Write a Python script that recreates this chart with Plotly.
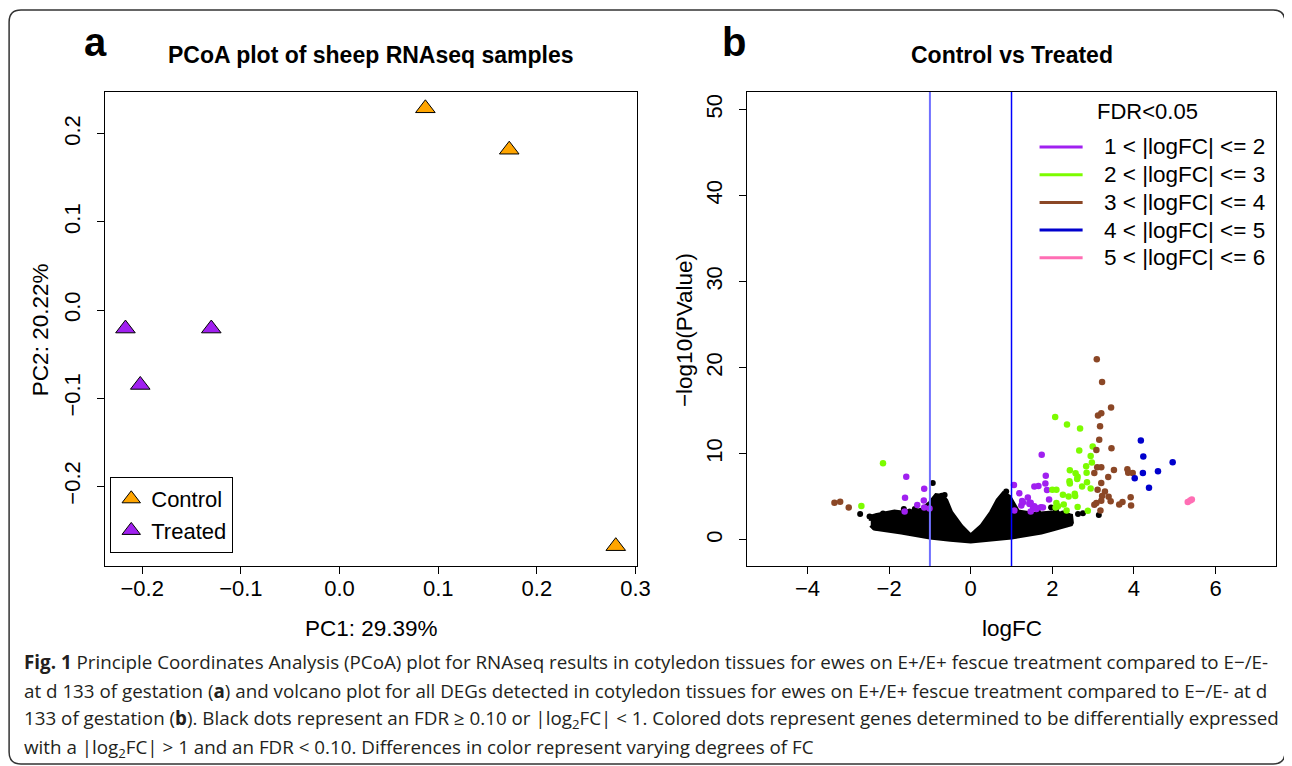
import plotly.graph_objects as go

# Figure sized to the visible window (8 px body margin); SX maps reference px to layout px
W, H = 1292, 758
OFF = 8
SX = 1292 / 1308
FONT = "Liberation Sans, Arial, Helvetica, sans-serif"
CAP_FONT = "Open Sans, sans-serif"

# ---------------- Panel a: PCoA ----------------
group_names = ["Control", "Treated"]
group_colors = ["#FFA500", "#A020F0"]
ctrl_pc1 = [0.087, 0.172, 0.280]
ctrl_pc2 = [0.229, 0.182, -0.268]
trt_pc1 = [-0.217, -0.202, -0.130]
trt_pc2 = [-0.021, -0.085, -0.021]
pc1_ticks = [-0.2, -0.1, 0.0, 0.1, 0.2, 0.3]
pc2_ticks = [-0.2, -0.1, 0.0, 0.1, 0.2]
pc1_range = [-0.2375, 0.3015]
pc2_range = [-0.2905, 0.2475]

# ---------------- Panel b: volcano ----------------
logfc_ticks = [-4, -2, 0, 2, 4, 6]
pval_ticks = [0, 10, 20, 30, 40, 50]
logfc_range = [-5.48, 7.48]
pval_range = [-3.04, 52.04]
fc_cutoffs = [-1, 1]

legend_title = "FDR<0.05"
legend_labels = ["1 < |logFC| <= 2", "2 < |logFC| <= 3", "3 < |logFC| <= 4",
                 "4 < |logFC| <= 5", "5 < |logFC| <= 6"]
legend_colors = ["#A020F0", "#7CFC00", "#8B4726", "#0000CD", "#FF6EB4"]

# dense non-significant cloud (outline)
cloud_x = [-2.45, -2.44, -2.30, -2.11, -1.87, -1.54, -1.21, -1.00, -0.85, -0.70,
           -0.60, -0.48, -0.23, 0.00, 0.26, 0.50, 0.66, 0.80, 0.95, 1.16,
           1.57, 2.06, 2.46, 2.48, 2.46, 2.00, 1.73, 1.00, 0.50, 0.00,
           -0.50, -1.00, -1.70, -2.10, -2.36, -2.45]
cloud_y = [2.2, 2.7, 2.9, 3.1, 3.3, 3.1, 3.5, 4.3, 5.2, 5.1,
           4.6, 3.2, 1.6, 0.5, 1.6, 3.2, 4.6, 5.4, 5.0, 3.3,
           3.0, 3.2, 2.8, 2.0, 1.8, 1.2, 0.86, 0.27, 0.0, -0.2,
           0.0, 0.27, 0.86, 1.1, 1.3, 1.7]
# scattered non-significant genes at the cloud edge
ns_x = [-2.71, -2.48, -2.30, -2.15, -2.01, -2.11, -2.19, -2.31, -1.83, -1.64,
        -1.50, -1.37, -0.93, -0.81, -0.71, -0.64, -0.87, -2.36, -2.23, -2.03,
        0.87, 0.85, 0.71, 0.81, 0.75, 0.59, 1.97, 2.09, 2.26, 2.38,
        2.42, 2.63, 2.75, 3.14, 1.08, 1.40, 1.65, 1.89]
ns_y = [3.0, 2.72, 2.72, 3.07, 2.6, 1.83, 1.59, 1.44, 2.8, 3.57,
        3.3, 3.57, 6.6, 4.93, 5.13, 5.2, 4.5, 1.5, 1.8, 1.9,
        5.63, 5.13, 4.55, 4.63, 3.85, 3.38, 3.77, 3.38, 3.07, 2.8,
        2.02, 3.0, 3.1, 2.9, 2.8, 3.0, 3.2, 3.0]

fc12_x = [-1.58, -1.14, -1.61, -1.15, -1.31, -1.14, -1.62, -1.01,
          1.74, 1.84, 1.83, 1.87, 1.56, 1.66, 1.06, 1.19, 1.40, 1.26, 1.24, 1.44,
          1.47, 1.92, 1.56, 1.62, 1.53, 1.72, 1.47, 1.07, 1.28, 1.61, 1.77, 1.44]
fc12_y = [7.34, 5.94, 4.90, 4.58, 4.06, 3.77, 3.30, 3.65,
          9.90, 7.46, 6.56, 5.79, 6.21, 6.25, 6.36, 5.40, 4.93, 4.51, 4.00, 4.30,
          4.30, 4.70, 3.90, 3.66, 3.66, 3.80, 3.30, 3.42, 4.35, 3.57, 3.77, 4.16]
fc23_x = [-2.15, -2.68,
          2.07, 2.36, 2.68, 2.66, 2.99, 2.94, 2.97, 2.83, 2.43, 2.57, 2.62, 2.61,
          2.84, 2.42, 2.43, 2.85, 2.73, 2.94, 2.00, 2.10, 2.26, 2.40, 2.55, 2.56,
          2.10, 2.28, 2.08, 2.14, 2.62, 2.35, 2.87]
fc23_y = [8.90, 3.92,
          14.26, 13.40, 12.94, 10.37, 10.84, 9.75, 9.00, 8.55, 8.08, 7.73, 7.34, 7.07,
          7.81, 6.80, 6.56, 6.68, 6.21, 5.98, 5.83, 5.83, 5.24, 5.05, 5.36, 5.10,
          4.27, 4.12, 3.77, 3.89, 3.81, 3.42, 3.38]
fc34_x = [-3.34, -3.20, -2.99,
          3.09, 3.22, 3.44, 3.12, 3.20, 3.17, 3.15, 3.45, 3.08, 3.10, 3.20, 3.51,
          3.03, 3.37, 3.84, 3.86, 3.97, 3.20, 3.11, 3.29, 3.22, 3.38, 3.43, 3.20,
          3.92, 3.72, 3.64, 3.93, 3.03, 3.08, 3.18]
fc34_y = [4.31, 4.43, 3.77,
          20.98, 18.33, 15.38, 14.45, 14.72, 13.20, 11.62, 10.64, 10.45, 8.43, 8.43, 8.12,
          7.77, 7.31, 8.20, 7.81, 7.77, 6.60, 5.83, 5.63, 5.09, 5.01, 4.47, 4.55,
          4.94, 4.40, 4.12, 4.00, 4.08, 4.27, 3.42]
fc45_x = [4.17, 4.23, 4.95, 4.59, 4.22, 4.02, 4.37]
fc45_y = [11.54, 9.67, 9.01, 7.96, 7.77, 7.15, 6.06]
fc56_x = [5.32, 5.38, 5.42]
fc56_y = [4.39, 4.58, 4.70]

caption_lines = [
    "<b>Fig. 1</b> Principle Coordinates Analysis (PCoA) plot for RNAseq results in cotyledon tissues for ewes on E+/E+ fescue treatment compared to E\u2212/E-",
    "at d 133 of gestation (<b>a</b>) and volcano plot for all DEGs detected in cotyledon tissues for ewes on E+/E+ fescue treatment compared to E\u2212/E- at d",
    "133 of gestation (<b>b</b>). Black dots represent an FDR \u2265 0.10 or |log<sub>2</sub>FC| < 1. Colored dots represent genes determined to be differentially expressed",
    "with a |log<sub>2</sub>FC| > 1 and an FDR < 0.10. Differences in color represent varying degrees of FC",
]


def px(x):
    return (x / SX - OFF) / W


def py(y):
    return 1 - (y - OFF) / H


fig = go.Figure()

# panel a traces
for name, col, xs, ys in zip(group_names, group_colors, [ctrl_pc1, trt_pc1], [ctrl_pc2, trt_pc2]):
    fig.add_trace(go.Scatter(
        x=xs, y=ys, mode="markers", name=name, xaxis="x", yaxis="y",
        marker=dict(symbol="triangle-up", size=17, color=col, line=dict(color="black", width=1))))

# panel b traces
fig.add_trace(go.Scatter(x=cloud_x, y=cloud_y, mode="lines", fill="toself", fillcolor="black",
                         line=dict(color="black", width=4), xaxis="x2", yaxis="y2",
                         showlegend=False, hoverinfo="skip"))
fig.add_trace(go.Scatter(x=ns_x, y=ns_y, mode="markers", xaxis="x2", yaxis="y2",
                         marker=dict(size=6, color="black"), showlegend=False))

for xs, ys, col, lab in zip([fc12_x, fc23_x, fc34_x, fc45_x, fc56_x],
                            [fc12_y, fc23_y, fc34_y, fc45_y, fc56_y], legend_colors, legend_labels):
    fig.add_trace(go.Scatter(x=xs, y=ys, mode="markers", xaxis="x2", yaxis="y2", name=lab,
                             marker=dict(size=6.5, color=col), showlegend=False))

axis_common = dict(showline=True, mirror=True, linecolor="black", linewidth=1,
                   ticks="outside", ticklen=7, tickwidth=1, tickcolor="black",
                   showgrid=False, zeroline=False,
                   tickfont=dict(family=FONT, size=22, color="black"))

fig.update_layout(
    width=W, height=H, margin=dict(l=0, r=0, t=0, b=0),
    paper_bgcolor="white", plot_bgcolor="white",
    xaxis=dict(domain=[px(105), px(636)], range=pc1_range, tickvals=pc1_ticks,
               tickformat=".1f", anchor="y", ticklabelstandoff=-4, **axis_common),
    yaxis=dict(domain=[py(566), py(92)], range=pc2_range, tickvals=pc2_ticks,
               tickformat=".1f", tickangle=-90, anchor="x", ticklabelstandoff=8, **axis_common),
    xaxis2=dict(domain=[px(746), px(1274)], range=logfc_range, tickvals=logfc_ticks,
                tickformat="d", anchor="y2", ticklabelstandoff=-4, **axis_common),
    yaxis2=dict(domain=[py(566), py(92)], range=pval_range, tickvals=pval_ticks,
                tickformat="d", tickangle=-90, anchor="x2", ticklabelstandoff=8, **axis_common),
    legend=dict(x=px(110), y=py(477), xanchor="left", yanchor="top",
                bordercolor="black", borderwidth=1, bgcolor="white",
                font=dict(family=FONT, size=22, color="black"), itemsizing="trace"),
    showlegend=True,
)

# cutoff lines
for xv, col, wd in zip(fc_cutoffs, ["#7070ff", "#0000ff"], [2, 1.5]):
    fig.add_shape(type="line", xref="x2", yref="y2 domain", x0=xv, x1=xv, y0=0, y1=1,
                  line=dict(color=col, width=wd))

# rounded frame (right/bottom edges limited by the window)
x0, x1, yt, yb = px(9), min(px(1290), 1 - 1 / W), py(10), max(py(764), 1 / H)
rx, ry = 12 / W, 12 / H
path = (f"M {x0+rx},{yt} L {x1-rx},{yt} Q {x1},{yt} {x1},{yt-ry} L {x1},{yb+ry} "
        f"Q {x1},{yb} {x1-rx},{yb} L {x0+rx},{yb} Q {x0},{yb} {x0},{yb+ry} "
        f"L {x0},{yt-ry} Q {x0},{yt} {x0+rx},{yt} Z")
fig.add_shape(type="path", path=path, xref="paper", yref="paper",
              line=dict(color="#333333", width=1.5))

ann = []
# right-panel legend (FDR classes)
ann.append(dict(text=legend_title, x=px(1146), y=py(112), font=dict(family=FONT, size=22, color="black")))
for i, (lab, col) in enumerate(zip(legend_labels, legend_colors)):
    yy = py(147 + i * 27.7)
    fig.add_shape(type="line", xref="paper", yref="paper", x0=px(1038), x1=px(1081), y0=yy, y1=yy,
                  line=dict(color=col, width=3))
    ann.append(dict(text=lab, x=px(1100), y=yy, xanchor="left",
                    font=dict(family=FONT, size=22.5, color="black")))

ann.append(dict(text="<b>a</b>", x=px(95), y=py(42), font=dict(family=FONT, size=40, color="black")))
ann.append(dict(text="<b>b</b>", x=px(733), y=py(42), font=dict(family=FONT, size=40, color="black")))
ann.append(dict(text="<b>PCoA plot of sheep RNAseq samples</b>", x=px(370.5), y=py(55),
                font=dict(family=FONT, size=23, color="black")))
ann.append(dict(text="<b>Control vs Treated</b>", x=px(1010), y=py(55),
                font=dict(family=FONT, size=23, color="black")))
ann.append(dict(text="PC1: 29.39%", x=px(370.5), y=py(628), font=dict(family=FONT, size=22.5, color="black")))
ann.append(dict(text="PC2: 20.22%", x=px(40), y=py(330), textangle=-90,
                font=dict(family=FONT, size=22.5, color="black")))
ann.append(dict(text="logFC", x=px(1010), y=py(628), font=dict(family=FONT, size=22.5, color="black")))
ann.append(dict(text="\u2212log10(PValue)", x=px(683), y=py(330), textangle=-90,
                font=dict(family=FONT, size=22.5, color="black")))
for i, line in enumerate(caption_lines):
    ann.append(dict(text=line, x=px(22), y=py(662 + i * 28.5), xanchor="left",
                    font=dict(family=CAP_FONT, size=18.8, color="#231f20")))
for a in ann:
    a.setdefault("xanchor", "center")
    a.update(xref="paper", yref="paper", yanchor="middle", showarrow=False)
fig.update_layout(annotations=ann)

fig.write_html("out.html")
